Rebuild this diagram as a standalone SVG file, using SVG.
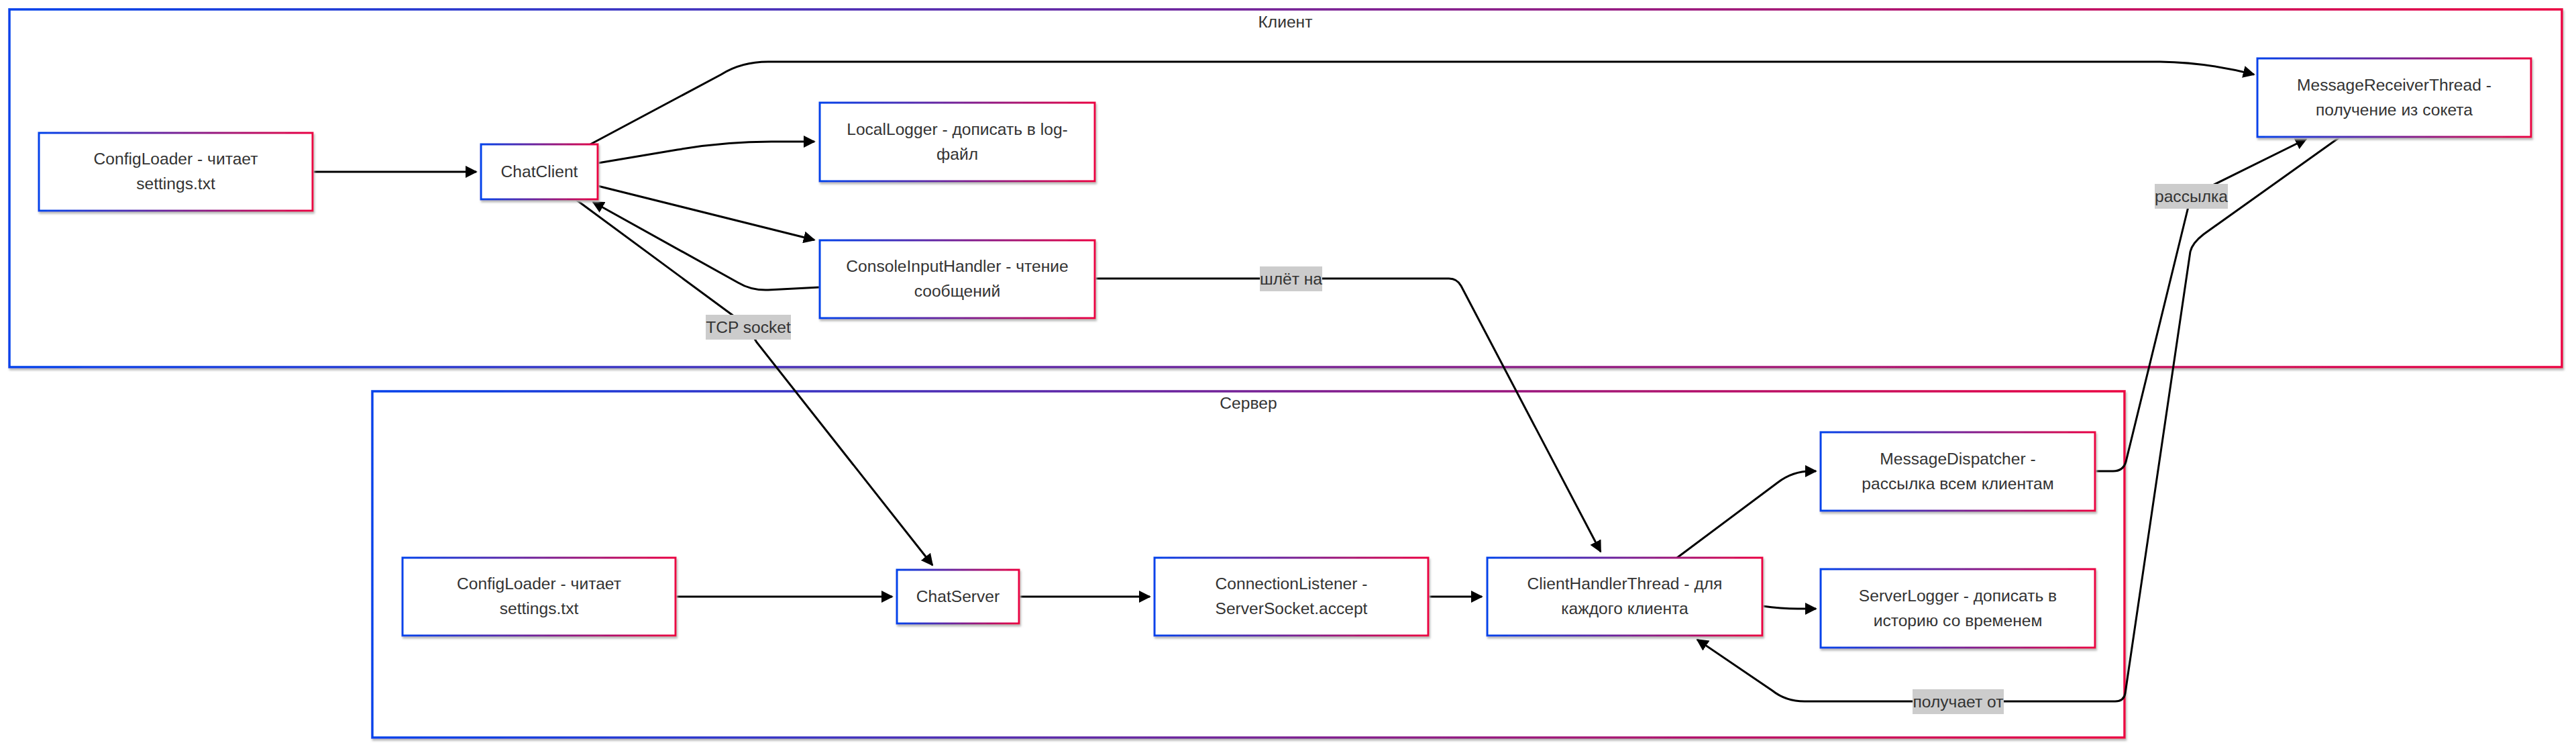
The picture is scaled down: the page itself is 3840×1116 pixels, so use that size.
<svg xmlns="http://www.w3.org/2000/svg" width="3840" height="1116" viewBox="0 0 3840 1116">
<defs>
<linearGradient id="grad" x1="0" y1="0" x2="1" y2="0">
<stop offset="0" stop-color="#0042eb"/>
<stop offset="1" stop-color="#eb0042"/>
</linearGradient>
<filter id="shadow" x="-5%" y="-10%" width="110%" height="125%">
<feDropShadow dx="1.5" dy="3" stdDeviation="1.6" flood-color="#b9b9b9" flood-opacity="1"/>
</filter>
<marker id="arrow" viewBox="0 0 10 10" refX="9" refY="5" markerUnits="userSpaceOnUse" markerWidth="18" markerHeight="18" orient="auto">
<path d="M0,0 L10,5 L0,10 z" fill="#000"/>
</marker>
<style>
.cluster rect{fill:#fff;stroke:url(#grad);stroke-width:3.5;filter:url(#shadow)}
.node rect{fill:#fff;stroke:url(#grad);stroke-width:3;filter:url(#shadow)}
text{font-family:"Liberation Sans",Arial,Helvetica,sans-serif;font-size:24.6px;fill:#333;text-anchor:middle}
.edge{fill:none;stroke:#000;stroke-width:3;marker-end:url(#arrow)}
.edge.nohead{marker-end:none}
.elabel rect{fill:#cccccc}
</style>
</defs>
<rect x="0" y="0" width="3840" height="1116" fill="#fff"/>

<g id="cluster-client" class="cluster">
<rect x="14" y="14" width="3805" height="533"/>
<text x="1916" y="41">Клиент</text>
</g>
<g id="cluster-server" class="cluster">
<rect x="555" y="583" width="2612" height="516"/>
<text x="1861" y="609">Сервер</text>
</g>

<g id="connectors">
<path class="edge" d="M466 256 L710 256"/>
<path class="edge" d="M891 243 L1010 223 Q1080 211 1150 211 L1214 211"/>
<path class="edge" d="M891 277 L1214 357.5"/>
<path class="edge" d="M1222 428 L1145 432 Q1120 433 1100 421 L884 301"/>
<path class="edge" d="M880 215 L1075 111 Q1105 92 1145 92 L3220 92 Q3290 93 3360 111"/>
<path class="edge" d="M858 297 L1098 474 Q1116 488 1128 510 L1390 842"/>
<path class="edge" d="M1632 415 L2160 415 Q2172 415 2178 426 L2386 822"/>
<path class="edge" d="M1007 889 L1330 889"/>
<path class="edge" d="M1519 889 L1714 889"/>
<path class="edge" d="M2129 889 L2209 889"/>
<path class="edge" d="M2500 831 L2650 719 Q2672 702 2700 702 L2707 702"/>
<path class="edge" d="M2627 903 Q2655 907 2680 907 L2707 907"/>
<path class="edge" d="M3123 702 L3150 702 Q3165 702 3169 688 L3266 292 L3438 207"/>
<path class="edge" d="M3487 205 L3285 349 Q3268 362 3265 375 L3168 1033 Q3166 1045 3153 1045 L2690 1045 Q2662 1045 2642 1029 L2530 953"/>
<g class="elabel"><rect x="1052" y="469" width="127" height="37"/><text x="1115.5" y="496">TCP socket</text></g>
<g class="elabel"><rect x="1878" y="397" width="93" height="37"/><text x="1924.5" y="424">шлёт на</text></g>
<g class="elabel"><rect x="3212" y="274" width="109" height="37"/><text x="3266.5" y="301">рассылка</text></g>
<g class="elabel"><rect x="2851" y="1027" width="136" height="37"/><text x="2919" y="1054">получает от</text></g>
</g>

<g id="node-configloader-client" class="node">
<rect x="58" y="198" width="408" height="116"/>
<text x="262" y="245">ConfigLoader - читает</text>
<text x="262" y="282">settings.txt</text>
</g>
<g id="node-chatclient" class="node">
<rect x="717" y="215" width="174" height="82"/>
<text x="804" y="264">ChatClient</text>
</g>
<g id="node-locallogger" class="node">
<rect x="1222" y="153" width="410" height="117"/>
<text x="1427" y="200.5">LocalLogger - дописать в log-</text>
<text x="1427" y="237.5">файл</text>
</g>
<g id="node-consoleinputhandler" class="node">
<rect x="1222" y="358" width="410" height="116"/>
<text x="1427" y="405">ConsoleInputHandler - чтение</text>
<text x="1427" y="442">сообщений</text>
</g>
<g id="node-messagereceiverthread" class="node">
<rect x="3365" y="87" width="408" height="117"/>
<text x="3569" y="134.5">MessageReceiverThread -</text>
<text x="3569" y="171.5">получение из сокета</text>
</g>
<g id="node-configloader-server" class="node">
<rect x="600" y="831" width="407" height="116"/>
<text x="803.5" y="878">ConfigLoader - читает</text>
<text x="803.5" y="915">settings.txt</text>
</g>
<g id="node-chatserver" class="node">
<rect x="1337" y="849" width="182" height="80"/>
<text x="1428" y="897">ChatServer</text>
</g>
<g id="node-connectionlistener" class="node">
<rect x="1721" y="831" width="408" height="116"/>
<text x="1925" y="878">ConnectionListener -</text>
<text x="1925" y="915">ServerSocket.accept</text>
</g>
<g id="node-clienthandlerthread" class="node">
<rect x="2217" y="831" width="410" height="116"/>
<text x="2422" y="878">ClientHandlerThread - для</text>
<text x="2422" y="915">каждого клиента</text>
</g>
<g id="node-messagedispatcher" class="node">
<rect x="2714" y="644" width="409" height="117"/>
<text x="2918.5" y="691.5">MessageDispatcher -</text>
<text x="2918.5" y="728.5">рассылка всем клиентам</text>
</g>
<g id="node-serverlogger" class="node">
<rect x="2714" y="848" width="409" height="117"/>
<text x="2918.5" y="895.5">ServerLogger - дописать в</text>
<text x="2918.5" y="932.5">историю со временем</text>
</g>
</svg>
